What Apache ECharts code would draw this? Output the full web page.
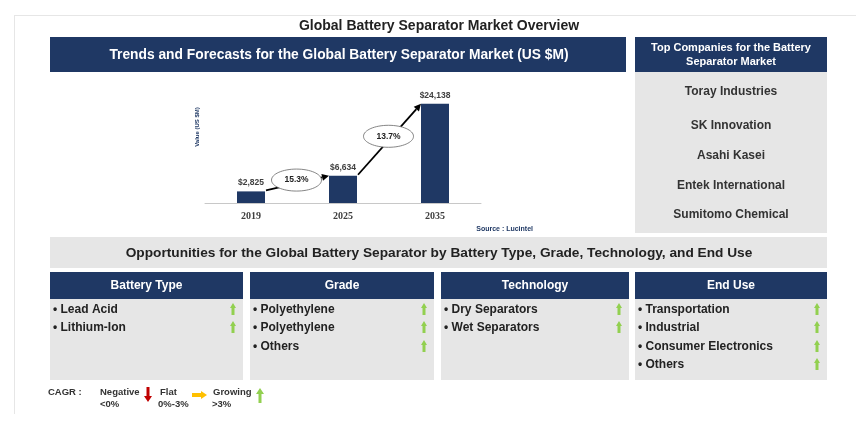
<!DOCTYPE html>
<html>
<head>
<meta charset="utf-8">
<title>Global Battery Separator Market Overview</title>
<script src="https://cdn.jsdelivr.net/npm/echarts@6/dist/echarts.min.js"></script>
<style>
  html, body { margin: 0; padding: 0; background: #fff; }
  #main { width: 856px; height: 426px; }
</style>
</head>
<body>
<div id="main"></div>
<script>
// 数据
var years = ['2019', '2025', '2035'];
var marketValues = [2825, 6634, 24138];
var valueLabels = ['$2,825', '$6,634', '$24,138'];
var cagrLabels = ['15.3%', '13.7%'];

var companies = ['Toray Industries', 'SK Innovation', 'Asahi Kasei', 'Entek International', 'Sumitomo Chemical'];
var batteryTypes = ['Lead Acid', 'Lithium-Ion'];
var grades = ['Polyethylene', 'Polyethylene', 'Others'];
var technologies = ['Dry Separators', 'Wet Separators'];
var endUses = ['Transportation', 'Industrial', 'Consumer Electronics', 'Others'];

var NAVY = '#1f3864';
var GRAY = '#e6e6e6';
var GREEN = '#92d050';
var FONT = '"Liberation Sans", Arial, sans-serif';
var NARROW = '"Liberation Sans Narrow", "Liberation Sans", Arial, sans-serif';
var BAR_W = 28;

var chart = echarts.init(document.getElementById('main'));

var option = {
	animation: false,
	backgroundColor: '#fff',
	grid: { left: 205, width: 276, top: 51, height: 152 },
	xAxis: {
		type: 'category',
		data: years,
		axisLine: { lineStyle: { color: '#c8c8c8', width: 1 } },
		axisTick: { show: false },
		axisLabel: {
			color: '#404040', fontFamily: '"Liberation Serif", serif',
			fontWeight: 'bold', fontSize: 10, margin: 8
		}
	},
	yAxis: {
		type: 'value',
		min: 0,
		max: 37000,
		name: 'Value (US $M)',
		nameLocation: 'middle',
		nameRotate: 90,
		nameGap: 5,
		nameTextStyle: { color: NAVY, fontFamily: FONT, fontWeight: 'bold', fontSize: 6 },
		axisLine: { show: false },
		axisTick: { show: false },
		axisLabel: { show: false },
		splitLine: { show: false }
	},
	series: [{
		type: 'bar',
		data: marketValues,
		barWidth: BAR_W,
		itemStyle: { color: NAVY },
		label: {
			show: true,
			position: 'top',
			distance: 4,
			formatter: function(p) { return valueLabels[p.dataIndex]; },
			color: '#404040', fontFamily: FONT, fontWeight: 'bold', fontSize: 8.5
		}
	}]
};
chart.setOption(option);

// 箭头多边形 dir: up/down/right
function arrowPoly(x, y, len, shaftW, headW, headL, dir, color) {
	var pts;
	if (dir == 'up') {
		pts = [[x, y], [x + headW / 2, y + headL], [x + shaftW / 2, y + headL], [x + shaftW / 2, y + len],
			[x - shaftW / 2, y + len], [x - shaftW / 2, y + headL], [x - headW / 2, y + headL]];
	} else if (dir == 'down') {
		pts = [[x, y], [x + headW / 2, y - headL], [x + shaftW / 2, y - headL], [x + shaftW / 2, y - len],
			[x - shaftW / 2, y - len], [x - shaftW / 2, y - headL], [x - headW / 2, y - headL]];
	} else {
		pts = [[x, y], [x - headL, y - headW / 2], [x - headL, y - shaftW / 2], [x - len, y - shaftW / 2],
			[x - len, y + shaftW / 2], [x - headL, y + shaftW / 2], [x - headL, y + headW / 2]];
	}
	return { type: 'polygon', shape: { points: pts }, style: { fill: color }, silent: true };
}

function txt(x, y, s, size, color, align, weight, family) {
	return {
		type: 'text', x: x, y: y, silent: true,
		style: {
			text: s, fill: color, fontSize: size, fontWeight: weight || 'bold',
			fontFamily: family || FONT, align: align || 'left', verticalAlign: 'middle'
		}
	};
}

function rect(x, y, w, h, color) {
	return { type: 'rect', shape: { x: x, y: y, width: w, height: h }, style: { fill: color }, silent: true };
}

var g = [];
// 外框细线
g.push({ type: 'line', shape: { x1: 14, y1: 15.5, x2: 856, y2: 15.5 }, style: { stroke: GRAY, lineWidth: 1 }, silent: true });
g.push({ type: 'line', shape: { x1: 14.5, y1: 15, x2: 14.5, y2: 414 }, style: { stroke: GRAY, lineWidth: 1 }, silent: true });

g.push(txt(439, 26, 'Global Battery Separator Market Overview', 14, '#222', 'center', 'bold', NARROW));

// 左侧标题
g.push(rect(50, 37, 576, 35, NAVY));
g.push(txt(339, 55, 'Trends and Forecasts for the Global Battery Separator Market (US $M)', 13.8, '#fff', 'center', 'bold', NARROW));

// 右侧公司
g.push(rect(635, 37, 192, 35, NAVY));
g.push(txt(731, 48, 'Top Companies for the Battery', 11, '#fff', 'center', 'bold', FONT));
g.push(txt(731, 62, 'Separator Market', 11, '#fff', 'center', 'bold', FONT));
g.push(rect(635, 72, 192, 161, GRAY));
var compY = [92, 126, 156, 186, 215];
for (var i = 0; i < companies.length; i++) {
	g.push(txt(731, compY[i], companies[i], 12, '#333', 'center'));
}

g.push(txt(533, 229, 'Source : Lucintel', 7, NAVY, 'right'));

// 机会横幅
g.push(rect(50, 237, 777, 31, GRAY));
g.push(txt(439, 253, 'Opportunities for the Global Battery Separator by Battery Type, Grade, Technology, and End Use', 13.7, '#222', 'center'));

var boxes = [
	{ title: 'Battery Type', items: batteryTypes, x: 50, w: 193 },
	{ title: 'Grade', items: grades, x: 250, w: 184 },
	{ title: 'Technology', items: technologies, x: 441, w: 188 },
	{ title: 'End Use', items: endUses, x: 635, w: 192 }
];
var itemY = [310, 328, 347, 365];
for (var b = 0; b < boxes.length; b++) {
	var bx = boxes[b];
	g.push(rect(bx.x, 272, bx.w, 27, NAVY));
	g.push(rect(bx.x, 299, bx.w, 81, GRAY));
	g.push(txt(bx.x + bx.w / 2, 286, bx.title, 12, '#fff', 'center'));
	for (var k = 0; k < bx.items.length; k++) {
		g.push(txt(bx.x + 3, itemY[k], '\u2022 ' + bx.items[k], 12, '#222', 'left'));
		g.push(arrowPoly(bx.x + bx.w - 10, itemY[k] - 7, 12, 3, 6, 5, 'up', GREEN));
	}
}

// CAGR 图例
g.push(txt(48, 392, 'CAGR :', 9.5, '#333', 'left'));
g.push(txt(100, 392, 'Negative', 9.5, '#333', 'left'));
g.push(txt(100, 404, '<0%', 9.5, '#333', 'left'));
g.push(arrowPoly(148, 402, 15, 3, 8, 6, 'down', '#c00000'));
g.push(txt(160, 392, 'Flat', 9.5, '#333', 'left'));
g.push(txt(158, 404, '0%-3%', 9.5, '#333', 'left'));
g.push(arrowPoly(207, 395, 15, 4, 8, 6, 'right', '#ffc000'));
g.push(txt(213, 392, 'Growing', 9.5, '#333', 'left'));
g.push(txt(212, 404, '>3%', 9.5, '#333', 'left'));
g.push(arrowPoly(260, 388, 15, 3, 8, 6, 'up', GREEN));

// 柱间增长箭头与椭圆，位置由坐标轴换算
for (var j = 0; j < marketValues.length - 1; j++) {
	var p0 = chart.convertToPixel({ seriesIndex: 0 }, [j, marketValues[j]]);
	var p1 = chart.convertToPixel({ seriesIndex: 0 }, [j + 1, marketValues[j + 1]]);
	var sx = p0[0] + BAR_W / 2 + 1, sy = p0[1] - 1;
	var ex = p1[0] - BAR_W / 2, ey = p1[1];
	var ang = Math.atan2(ey - sy, ex - sx);
	var hl = 7, hw = 3.5;
	var bxp = ex - hl * Math.cos(ang), byp = ey - hl * Math.sin(ang);
	g.push({ type: 'line', shape: { x1: sx, y1: sy, x2: bxp, y2: byp }, style: { stroke: '#000', lineWidth: 1.8 }, silent: true });
	g.push({
		type: 'polygon', silent: true,
		shape: { points: [[ex, ey],
			[bxp + hw * Math.sin(ang), byp - hw * Math.cos(ang)],
			[bxp - hw * Math.sin(ang), byp + hw * Math.cos(ang)]] },
		style: { fill: '#000' }
	});
	var mx = (sx + ex) / 2 - 1, my = (sy + ey) / 2 - 3;
	g.push({ type: 'ellipse', shape: { cx: mx, cy: my, rx: 25, ry: 11 }, style: { fill: '#fff', stroke: '#666', lineWidth: 0.8 }, silent: true });
	g.push(txt(mx, my, cagrLabels[j], 8.5, '#222', 'center'));
}

chart.setOption({ graphic: { elements: g } });
</script>
</body>
</html>
